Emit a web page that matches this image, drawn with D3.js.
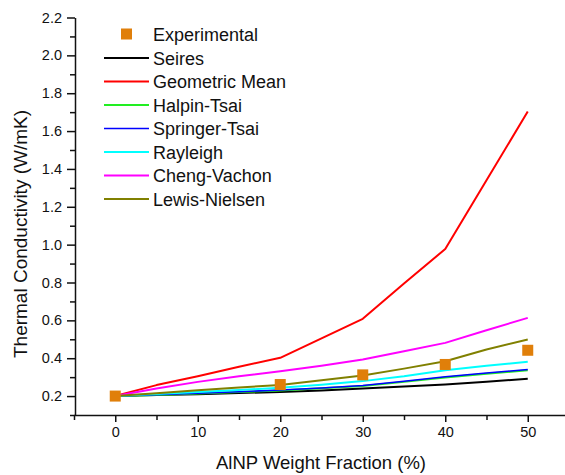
<!DOCTYPE html>
<html>
<head>
<meta charset="utf-8">
<script src="https://cdn.jsdelivr.net/npm/d3@7"></script>
<style>
  html, body { margin: 0; padding: 0; background: #fff; overflow: hidden; }
  svg { display: block; font-family: Arial, "Liberation Sans", sans-serif; }
</style>
</head>
<body>
<div id="chart"></div>
<script>
// Weight fraction (%) at which the curves are read.
const fractions = [0, 5, 10, 15, 20, 25, 30, 35, 40, 45, 50];

// Model curves (W/mK).
const seires = [0.200, 0.205, 0.210, 0.216, 0.222, 0.230, 0.240, 0.250, 0.261, 0.276, 0.291];
const geometricMean = [0.200, 0.258, 0.305, 0.355, 0.402, 0.505, 0.608, 0.795, 0.977, 1.340, 1.703];
const halpinTsai = [0.200, 0.206, 0.213, 0.221, 0.230, 0.241, 0.253, 0.275, 0.298, 0.318, 0.336];
const springerTsai = [0.200, 0.207, 0.215, 0.223, 0.232, 0.243, 0.256, 0.278, 0.302, 0.322, 0.340];
const rayleigh = [0.200, 0.211, 0.222, 0.232, 0.244, 0.260, 0.279, 0.305, 0.337, 0.360, 0.381];
const chengVachon = [0.200, 0.240, 0.275, 0.305, 0.331, 0.360, 0.393, 0.437, 0.481, 0.548, 0.613];
const lewisNielsen = [0.200, 0.215, 0.231, 0.245, 0.259, 0.283, 0.309, 0.345, 0.384, 0.446, 0.499];

// Measured points.
const expFractions = [0, 20, 30, 40, 50];
const expValues = [0.200, 0.261, 0.312, 0.367, 0.442];

const seriesNames = ["Seires", "Geometric Mean", "Halpin-Tsai", "Springer-Tsai",
    "Rayleigh", "Cheng-Vachon", "Lewis-Nielsen"];
const seriesValues = [seires, geometricMean, halpinTsai, springerTsai,
    rayleigh, chengVachon, lewisNielsen];
const seriesColors = ["#000000", "#ff0000", "#22ee22", "#0000ff",
    "#00ffff", "#ff00ff", "#808000"];
const seriesWidths = [2, 2, 2, 1.6, 2, 2, 2];

const xTicks = [0, 10, 20, 30, 40, 50];
const yTicks = [0.2, 0.4, 0.6, 0.8, 1.0, 1.2, 1.4, 1.6, 1.8, 2.0, 2.2];

const width = 565;
const height = 475;

const x = d3.scaleLinear().domain([-5, 55]).range([74, 569]);
const y = d3.scaleLinear().domain([0.1, 2.2]).range([415, 17.5]);

const svg = d3.create("svg")
    .attr("width", width)
    .attr("height", height)
    .attr("viewBox", [0, 0, width, height]);

// Curves, drawn in legend order so later ones sit on top.
const line = d3.line()
    .x((d, i) => x(fractions[i]))
    .y(d => y(d));

svg.append("g")
    .selectAll("path")
    .data(seriesValues)
    .join("path")
    .attr("fill", "none")
    .attr("stroke", (d, i) => seriesColors[i])
    .attr("stroke-width", (d, i) => seriesWidths[i])
    .attr("stroke-linejoin", "round")
    .attr("d", line);

// Experimental squares.
const sq = 11;
svg.append("g")
    .selectAll("rect")
    .data(expValues)
    .join("rect")
    .attr("x", (d, i) => x(expFractions[i]) - sq / 2)
    .attr("y", d => y(d) - sq / 2)
    .attr("width", sq)
    .attr("height", sq)
    .attr("fill", "#e07f0a");

// Axes: major labelled ticks plus unlabelled minor ticks, all outward.
const xAxis = svg.append("g")
    .attr("transform", `translate(0,${y(0.1)})`)
    .call(d3.axisBottom(x).tickValues(xTicks).tickSize(7).tickSizeOuter(0).tickPadding(5))
    .call(g => g.selectAll("text").attr("font-size", 14.5).attr("fill", "#111")
        .attr("font-family", "Arial, 'Liberation Sans', sans-serif"));

xAxis.append("g")
    .call(d3.axisBottom(x).tickValues([-5, 5, 15, 25, 35, 45]).tickSize(5).tickFormat(""))
    .call(g => g.select(".domain").remove());

const yAxis = svg.append("g")
    .attr("transform", `translate(${x(-5) + 1},0)`)
    .call(d3.axisLeft(y).tickValues(yTicks).tickSize(8).tickSizeOuter(0).tickPadding(5)
        .tickFormat(d3.format(".1f")))
    .call(g => g.selectAll("text").attr("font-size", 14.5).attr("fill", "#111")
        .attr("font-family", "Arial, 'Liberation Sans', sans-serif"));

yAxis.append("g")
    .call(d3.axisLeft(y).tickValues(d3.range(0.1, 2.2, 0.2)).tickSize(5).tickFormat(""))
    .call(g => g.select(".domain").remove());

svg.selectAll(".domain, .tick line").attr("stroke", "#111").attr("stroke-width", 1.5);

// Axis titles.
svg.append("text")
    .attr("transform", "translate(27,234) rotate(-90)")
    .attr("text-anchor", "middle")
    .attr("font-size", 19)
    .attr("fill", "#111")
    .text("Thermal Conductivity (W/mK)");

svg.append("text")
    .attr("x", 321)
    .attr("y", 469)
    .attr("text-anchor", "middle")
    .attr("font-size", 18.5)
    .attr("fill", "#111")
    .text("AlNP Weight Fraction (%)");

// Legend.
const legend = svg.append("g").attr("font-size", 18).attr("fill", "#111");

legend.append("rect")
    .attr("x", 121).attr("y", 28.5)
    .attr("width", sq).attr("height", sq)
    .attr("fill", "#e07f0a");
legend.append("text")
    .attr("x", 153).attr("y", 40.5)
    .text("Experimental");

const rowY = i => 58 + i * 23.5;
const rows = legend.selectAll("g.row")
    .data(seriesNames)
    .join("g")
    .attr("class", "row")
    .attr("transform", (d, i) => `translate(0,${rowY(i)})`);

rows.append("line")
    .attr("x1", 104).attr("x2", 149)
    .attr("stroke", (d, i) => seriesColors[i])
    .attr("stroke-width", (d, i) => seriesWidths[i]);

rows.append("text")
    .attr("x", 153).attr("y", 6.5)
    .text(d => d);

d3.select("#chart").node().appendChild(svg.node());
</script>
</body>
</html>
